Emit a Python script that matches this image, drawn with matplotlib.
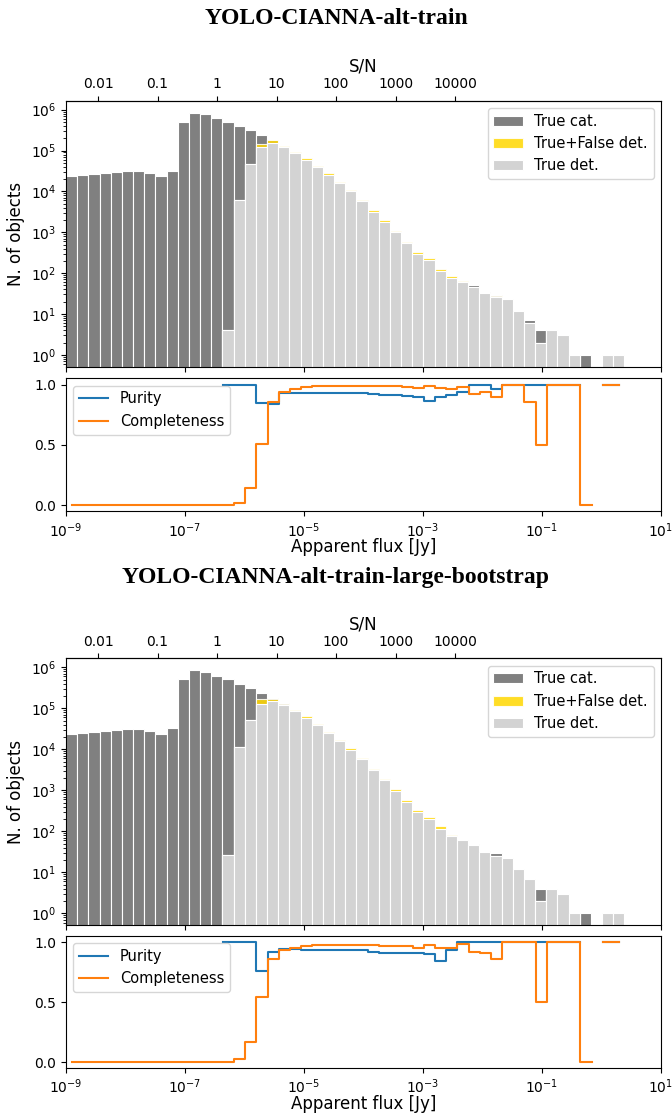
import matplotlib
matplotlib.use("Agg")
import matplotlib.pyplot as plt
import numpy as np
from matplotlib.ticker import NullLocator

# log-spaced flux bins [Jy]
flux_edges = np.logspace(-9, 0.385, 51)
flux_centers = np.sqrt(flux_edges[:-1] * flux_edges[1:])
noise = 3.45e-7  # 1 sigma [Jy], used for the S/N axis

# true catalogue counts per bin (same catalogue for both runs)
n_cat = np.array([24000, 25100, 26300, 28200, 29500, 31000, 31600, 27500, 24000, 32400,
                  513000, 851000, 776000, 631000, 513000, 400000, 316000, 237000, 178000, 131500,
                  90540, 61530, 40320, 26010, 15960, 10100, 5800, 3190, 1800, 1013,
                  548, 310, 207, 118, 81, 63, 50, 34, 29, 23,
                  12, 7, 4, 4, 3, 1, 1, 0, 1, 1])

# YOLO-CIANNA-alt-train
det_true_a = np.array([0, 0, 0, 0, 0, 0, 0, 0, 0, 0,
                       0, 0, 0, 0, 4, 6150, 45700, 120800, 152200, 123000,
                       87100, 60300, 39800, 25700, 15800, 10000, 5750, 3160, 1780, 1000,
                       537, 302, 204, 115, 78, 62, 46, 32, 26, 23,
                       12, 6, 2, 4, 3, 1, 0, 0, 1, 1])
det_all_a = np.array([0, 0, 0, 0, 0, 0, 0, 0, 0, 0,
                      0, 0, 0, 0, 4, 6150, 45700, 142100, 181200, 131550,
                      93150, 64840, 42800, 27720, 16990, 10700, 6180, 3435, 1945, 1090,
                      593, 337, 237, 128, 85, 66, 46, 32, 27, 23,
                      12, 6, 2, 4, 3, 1, 0, 0, 1, 1])

# YOLO-CIANNA-alt-train-large-bootstrap
det_true_b = np.array([0, 0, 0, 0, 0, 0, 0, 0, 0, 0,
                       0, 0, 0, 0, 27, 11400, 52000, 128000, 153000, 122700,
                       86470, 59680, 39310, 25410, 15590, 9870, 5684, 3117, 1750, 985,
                       530, 296, 202, 112, 77, 62, 46, 31, 25, 23,
                       12, 7, 2, 4, 3, 1, 0, 0, 1, 1])
det_all_b = np.array([0, 0, 0, 0, 0, 0, 0, 0, 0, 0,
                      0, 0, 0, 0, 27, 11400, 52000, 168400, 166300, 130500,
                      91500, 63490, 41820, 27180, 16710, 10580, 6092, 3388, 1913, 1079,
                      580, 326, 224, 133, 82, 62, 46, 31, 25, 23,
                      12, 7, 2, 4, 3, 1, 0, 0, 1, 1])

runs = [("YOLO-CIANNA-alt-train", det_true_a, det_all_a),
        ("YOLO-CIANNA-alt-train-large-bootstrap", det_true_b, det_all_b)]

sn_ticks = [0.01, 0.1, 1, 10, 100, 1000, 10000]
sn_labels = ["0.01", "0.1", "1", "10", "100", "1000", "10000"]

W, H = 672, 1113
fig = plt.figure(figsize=(W / 100, H / 100), dpi=100)

# [title y, hist top, hist bottom, ratio top, ratio bottom] in pixels
layout = [(18, 100.7, 366.7, 378.3, 511.3),
          (578, 658.3, 925.3, 936.0, 1068.0)]
left, right = 66, 661

for (title, det_true, det_all), (ty, h_top, h_bot, r_top, r_bot) in zip(runs, layout):
    ax = fig.add_axes([left / W, 1 - h_bot / H, (right - left) / W, (h_bot - h_top) / H])
    axr = fig.add_axes([left / W, 1 - r_bot / H, (right - left) / W, (r_bot - r_top) / H],
                       sharex=ax)

    widths = np.diff(flux_edges)
    ax.bar(flux_edges[:-1], n_cat, width=widths, align="edge", color="grey",
           edgecolor="white", linewidth=0.8, label="True cat.")
    ax.bar(flux_edges[:-1], det_all, width=widths, align="edge", color="gold", alpha=0.85,
           edgecolor="white", linewidth=0.8, label="True+False det.")
    ax.bar(flux_edges[:-1], det_true, width=widths, align="edge", color="lightgrey",
           edgecolor="white", linewidth=0.8, label="True det.")
    ax.set_xscale("log")
    ax.set_yscale("log")
    ax.set_xlim(1e-9, 10)
    ax.set_ylim(10 ** -0.29, 10 ** 6.22)
    ax.set_ylabel("N. of objects", fontsize=12)
    ax.tick_params(labelbottom=False)
    ax.legend(loc="upper right", fontsize=10.5)

    secax = ax.secondary_xaxis("top", functions=(lambda f: f / noise, lambda s: s * noise))
    secax.set_xticks(sn_ticks)
    secax.set_xticklabels(sn_labels)
    secax.xaxis.set_minor_locator(NullLocator())
    secax.set_xlabel("S/N", fontsize=12)

    with np.errstate(divide="ignore", invalid="ignore"):
        purity = np.where(det_all > 0, det_true / det_all, np.nan)
        completeness = np.where(n_cat > 0, det_true / n_cat, np.nan)

    axr.step(flux_centers, purity, where="mid", label="Purity")
    axr.step(flux_centers, completeness, where="mid", label="Completeness")
    axr.set_ylim(-0.05, 1.053)
    axr.set_yticks([0.0, 0.5, 1.0])
    axr.set_xlabel("Apparent flux [Jy]", fontsize=12, labelpad=-1)
    axr.legend(loc="upper left", fontsize=10.5)

    fig.text(0.5, 1 - ty / H, title, ha="center", va="center", fontsize=17,
             fontweight="bold", family="Liberation Serif")

fig.savefig("out.png", dpi=100)
